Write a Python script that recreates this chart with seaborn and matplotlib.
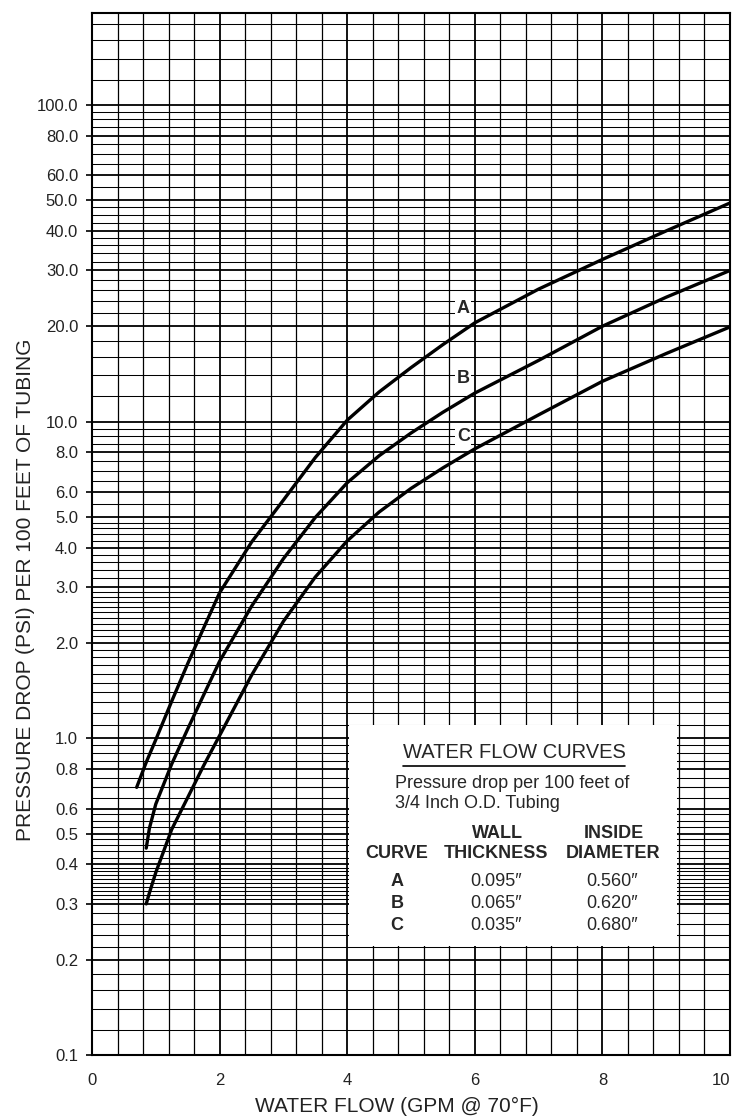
import numpy as np
import pandas as pd
import matplotlib
matplotlib.use("Agg")
import matplotlib.pyplot as plt
import seaborn as sns
from matplotlib.patches import Rectangle
from matplotlib.ticker import NullFormatter

# ---------------- data ----------------
flow_a = [0.7, 0.85, 1.0, 1.25, 1.5, 1.75, 2.0, 2.5, 3.0, 3.5, 4.0, 4.5, 5.0, 5.5, 6.0, 7.0, 8.0, 9.0, 10.0]
drop_a = [0.70, 0.84, 0.99, 1.31, 1.72, 2.23, 2.88, 4.16, 5.65, 7.7, 10.1, 12.4, 14.8, 17.5, 20.5, 26.2, 32.5, 40.0, 49.0]
flow_b = [0.85, 0.9, 1.0, 1.25, 1.5, 1.75, 2.0, 2.5, 3.0, 3.5, 4.0, 4.5, 5.0, 5.5, 6.0, 7.0, 8.0, 9.0, 10.0]
drop_b = [0.45, 0.52, 0.62, 0.83, 1.07, 1.37, 1.75, 2.61, 3.69, 4.98, 6.41, 7.8, 9.2, 10.7, 12.3, 15.6, 20.0, 24.7, 30.0]
flow_c = [0.85, 0.9, 1.0, 1.25, 1.5, 1.75, 2.0, 2.5, 3.0, 3.5, 4.0, 4.5, 5.0, 5.5, 6.0, 7.0, 8.0, 9.0, 10.0]
drop_c = [0.30, 0.325, 0.377, 0.516, 0.65, 0.82, 1.02, 1.58, 2.34, 3.23, 4.2, 5.18, 6.15, 7.14, 8.2, 10.5, 13.4, 16.4, 19.9]

curve_names = ["A", "B", "C"]
wall_thickness = ["0.095\u2033", "0.065\u2033", "0.035\u2033"]
inside_diameter = ["0.560\u2033", "0.620\u2033", "0.680\u2033"]

y_tick_values = [0.1, 0.2, 0.3, 0.4, 0.5, 0.6, 0.8, 1.0, 2.0, 3.0, 4.0, 5.0, 6.0, 8.0,
                 10.0, 20.0, 30.0, 40.0, 50.0, 60.0, 80.0, 100.0]
y_tick_labels = ["0.1", "0.2", "0.3", "0.4", "0.5", "0.6", "0.8", "1.0", "2.0", "3.0", "4.0",
                 "5.0", "6.0", "8.0", "10.0", "20.0", "30.0", "40.0", "50.0", "60.0", "80.0", "100.0"]
x_tick_values = [0, 2, 4, 6, 8, 10]
x_tick_labels = ["0", "2", "4", "6", "8", "10"]

# graph-paper rulings (mantissas per decade)
rul_01 = [1.2, 1.4, 1.6, 1.8, 2.2, 2.4, 2.6, 2.8, 3.1, 3.2, 3.3, 3.4, 3.5, 3.6, 3.7, 3.8, 3.9,
          4.2, 4.4, 4.6, 4.8, 5.25, 5.5, 5.75, 6.5, 7, 7.5, 8.5, 9, 9.5]
rul_1 = [1.1, 1.2, 1.3, 1.4, 1.5, 1.6, 1.7, 1.8, 1.9, 2.1, 2.2, 2.3, 2.4, 2.5, 2.6, 2.7, 2.8, 2.9,
         3.2, 3.4, 3.6, 3.8, 4.2, 4.4, 4.6, 4.8, 5.5, 6.5, 7, 7.5, 8.5, 9, 9.5]
rul_10 = [1.2, 1.4, 1.6, 1.8, 2.2, 2.4, 2.6, 2.8, 3.2, 3.4, 3.6, 3.8, 4.25, 4.5, 4.75,
          5.5, 6.5, 7, 7.5, 8.5, 9, 9.5]
rul_100 = [1.2, 1.4, 1.6, 1.8]

df = pd.concat([
    pd.DataFrame({"flow": flow_a, "drop": drop_a, "curve": "A"}),
    pd.DataFrame({"flow": flow_b, "drop": drop_b, "curve": "B"}),
    pd.DataFrame({"flow": flow_c, "drop": drop_c, "curve": "C"}),
])

# ---------------- style ----------------
sns.set_style("white")
plt.rcParams["font.family"] = ["Liberation Sans", "DejaVu Sans"]

W, H = 734, 1120
fig = plt.figure(figsize=(W / 100, H / 100), dpi=100)
L, R, T, B = 92, 730, 13, 1055
ax = fig.add_axes([L / W, 1 - B / H, (R - L) / W, (B - T) / H])

ax.set_yscale("log")
ax.set_xlim(0, 10)
ax.set_ylim(0.1, 195)

sns.lineplot(data=df, x="flow", y="drop", units="curve", estimator=None, sort=False,
             color="black", linewidth=2.4, ax=ax, zorder=3)

# ticks and rulings
ax.set_yticks(y_tick_values)
ax.set_yticklabels(y_tick_labels)
minor_y = ([0.1 * m for m in rul_01] + [1.0 * m for m in rul_1] +
           [10.0 * m for m in rul_10] + [100.0 * m for m in rul_100] + [7.0, 70.0, 0.7, 0.9, 90.0])
ax.set_yticks(sorted(set(minor_y)), minor=True)
ax.yaxis.set_minor_formatter(NullFormatter())

ax.set_xticks(x_tick_values)
ax.set_xticklabels(x_tick_labels)
minor_x = [v for v in np.round(np.arange(0, 10.01, 0.4), 2) if v not in x_tick_values]
ax.set_xticks(minor_x, minor=True)

ax.set_axisbelow(True)
ax.grid(which="major", axis="both", color="black", linewidth=1.3)
ax.grid(which="minor", axis="y", color="black", linewidth=0.75)
ax.grid(which="minor", axis="x", color="black", linewidth=0.9)

ax.tick_params(axis="y", which="major", direction="out", length=4.5, width=1.2,
               pad=5.5, labelsize=12, color="black", left=True)
ax.tick_params(axis="y", which="minor", length=0)
ax.tick_params(axis="x", which="both", length=0, pad=13, labelsize=12)
for lab in ax.get_yticklabels() + ax.get_xticklabels():
    lab.set_color("#222222")
ax.get_xticklabels()[-1].set_horizontalalignment("right")

for s in ax.spines.values():
    s.set_color("black")
    s.set_linewidth(1.5)

ax.set_xlabel("WATER FLOW (GPM @ 70\u00b0F)", fontsize=15, labelpad=9, color="#222222")
ax.set_ylabel("PRESSURE DROP (PSI) PER 100 FEET OF TUBING", fontsize=15, color="#222222")


def fx(px):
    return (px - L) / (R - L)


def fy(py):
    return (B - py) / (B - T)


ax.xaxis.set_label_coords(fx(397), fy(1097))
ax.yaxis.set_label_coords(fx(35), fy(590))

# white panel for the legend table
ax.add_patch(Rectangle((4.035, 0.2215), 9.165 - 4.035, 1.1 - 0.2215, facecolor="white",
                       edgecolor="none", zorder=1.5))

# curve labels
label_pos_y = [22.7, 13.7, 9.0]
for name, yy in zip(curve_names, label_pos_y):
    ax.text(5.82, yy, name, fontsize=13, fontweight="bold", ha="center", va="center",
            zorder=4, bbox=dict(facecolor="white", edgecolor="none", pad=1.2))

# legend table text (axes fraction)
title = ax.text(fx(514), fy(752), "WATER FLOW CURVES", transform=ax.transAxes,
                fontsize=14.5, ha="center", va="center", zorder=4)
ax.text(fx(395), fy(783), "Pressure drop per 100 feet of", transform=ax.transAxes,
        fontsize=13, ha="left", va="center", zorder=4)
ax.text(fx(395), fy(803), "3/4 Inch O.D. Tubing", transform=ax.transAxes,
        fontsize=13, ha="left", va="center", zorder=4)
hdr = dict(transform=ax.transAxes, fontsize=13, fontweight="bold", ha="center",
           va="center", zorder=4)
ax.text(fx(497), fy(833), "WALL", **hdr)
ax.text(fx(614), fy(833), "INSIDE", **hdr)
ax.text(fx(397), fy(853), "CURVE", **hdr)
ax.text(fx(496), fy(853), "THICKNESS", **hdr)
ax.text(fx(613), fy(853), "DIAMETER", **hdr)
row_py = [882, 903, 925]
for name, wt, di, py in zip(curve_names, wall_thickness, inside_diameter, row_py):
    ax.text(fx(397), fy(py), name, transform=ax.transAxes, fontsize=13, fontweight="bold",
            ha="center", va="center", zorder=4)
    ax.text(fx(496), fy(py), wt, transform=ax.transAxes, fontsize=13,
            ha="center", va="center", zorder=4)
    ax.text(fx(612), fy(py), di, transform=ax.transAxes, fontsize=13,
            ha="center", va="center", zorder=4)

# underline for the table title
fig.canvas.draw()
bb = title.get_window_extent(fig.canvas.get_renderer())
inv = ax.transAxes.inverted()
(x0, y0), (x1, y1) = inv.transform([[bb.x0, bb.y0], [bb.x1, bb.y1]])
ax.plot([x0, x1], [y0 - 0.004, y0 - 0.004], transform=ax.transAxes, color="black",
        linewidth=1.2, zorder=4)

fig.savefig("out.png", dpi=100, facecolor="white")
